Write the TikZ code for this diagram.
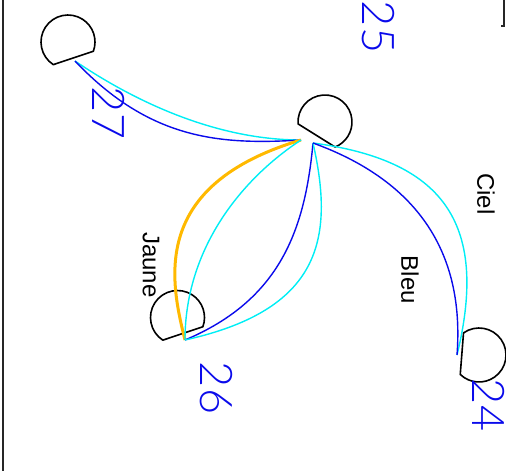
\documentclass[tikz,border=0pt]{standalone}
\usepackage{fontspec}
\setmainfont{Liberation Sans}
\newfontfamily\numfont{Lato Light}
\definecolor{myblue}{RGB}{10,10,235}
\definecolor{mycyan}{RGB}{0,238,245}
\definecolor{myorange}{RGB}{255,185,0}
\begin{document}
\begin{tikzpicture}[x=1pt,y=-1pt,
  dshape/.style={draw=black,line width=1.6pt,line join=round},
  blueedge/.style={draw=myblue,line width=1.4pt},
  cyanedge/.style={draw=mycyan,line width=1.4pt},
  orangeedge/.style={draw=myorange,line width=3pt},
  numlabel/.style={text=myblue,font=\numfont\fontsize{45}{45}\selectfont,rotate=-90,inner sep=0pt},
  namelabel/.style={text=black,font=\fontsize{24}{24}\selectfont,rotate=-90,inner sep=0pt},
  frame/.style={draw=black!85,line width=1.8pt}]
\useasboundingbox (0,0) rectangle (506,471);

% frame pieces
\draw[frame] (3,0) -- (3,471);
\draw[frame,line width=1.4pt] (504,0) -- (504,26) -- (501,26);

% node centres and connection points
\coordinate (n27) at (68,42);
\coordinate (n25) at (325,122);
\coordinate (n26) at (177.5,317.5);
\coordinate (n24) at (479,355);
\coordinate (p27) at (75,61);
\coordinate (p25a) at (301,140);
\coordinate (p25b) at (313,143);
\coordinate (p26) at (185,340);
\coordinate (p24) at (457,355);

% D-shaped nodes
\draw[dshape] (n27) ++(123:27) arc[start angle=123,end angle=380,radius=27] -- cycle;
\draw[dshape] (n25) ++(176:27) arc[start angle=176,end angle=428,radius=27] -- cycle;
\draw[dshape] (n26) ++(123:27) arc[start angle=123,end angle=380,radius=27] -- cycle;
\draw[dshape] (n24) ++(235:27) arc[start angle=235,end angle=494,radius=27] -- cycle;

% connectors
\draw[cyanedge] (p27) .. controls (140,105) and (220,140) .. (p25a);
\draw[blueedge] (p27) .. controls (150,140) and (220,145) .. (p25a);
\draw[orangeedge] (p25a) .. controls (150,185) and (170,280) .. (p26);
\draw[cyanedge] (p25a) .. controls (240,180) and (185,250) .. (p26);
\draw[blueedge] (p25b) .. controls (305,230) and (280,300) .. (p26);
\draw[cyanedge] (p25b) .. controls (335,240) and (320,310) .. (p26);
\draw[cyanedge] (p25b) .. controls (440,160) and (490,220) .. (p24);
\draw[blueedge] (p25b) .. controls (415,180) and (465,250) .. (p24);

% labels
\node[numlabel] (l25) at (378,27) {25};
\node[numlabel] (l27) at (109,113) {27};
\node[numlabel] (l26) at (216,388) {26};
\node[numlabel] (l24) at (489,405) {24};
\node[namelabel] (jaune) at (151,265) {Jaune};
\node[namelabel] (bleu) at (410,280) {Bleu};
\node[namelabel] (ciel) at (486,194) {Ciel};
\end{tikzpicture}
\end{document}
